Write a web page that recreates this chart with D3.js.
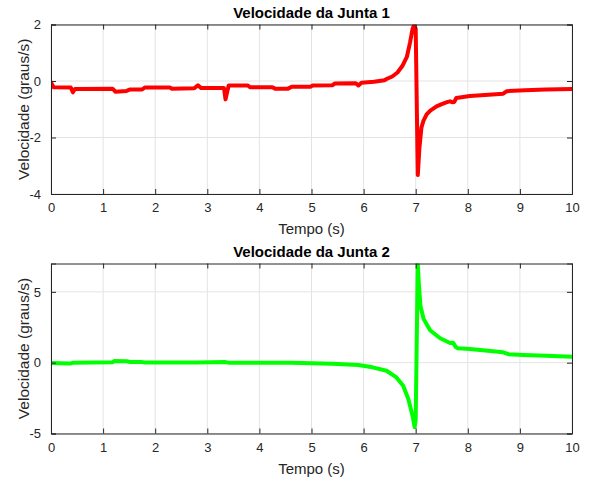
<!DOCTYPE html>
<html>
<head>
<meta charset="utf-8">
<script src="https://cdn.jsdelivr.net/npm/d3@7"></script>
<style>
  html, body { margin: 0; padding: 0; background: #fff; }
  svg { display: block; font-family: "Liberation Sans", Arial, Helvetica, sans-serif; }
</style>
</head>
<body>
<svg id="chart" width="591" height="481"></svg>
<script>
// ---- Data ----
const titles = ["Velocidade da Junta 1", "Velocidade da Junta 2"];
const xLabel = "Tempo (s)";
const yLabel = "Velocidade (graus/s)";
const xTicks = [0, 1, 2, 3, 4, 5, 6, 7, 8, 9, 10];
const yTicks1 = [-4, -2, 0, 2];
const yTicks2 = [-5, 0, 5];
const xDomain = [0, 10];
const yDomain1 = [-4, 2];
const yDomain2 = [-5, 7];

const t1 = [0.00, 0.05, 0.38, 0.42, 0.46, 1.18, 1.24, 1.45, 1.52, 1.75, 1.80, 2.28, 2.32, 2.75, 2.82, 2.88,
            3.32, 3.35, 3.38, 3.41, 3.78, 3.82, 4.25, 4.30, 4.55, 4.62, 4.98, 5.02, 5.40, 5.45, 5.85, 5.90,
            5.96, 6.20, 6.40, 6.45, 6.55, 6.65, 6.75, 6.83, 6.89, 6.94, 6.97, 7.00, 7.04, 7.07, 7.11, 7.15,
            7.21, 7.28, 7.40, 7.50, 7.60, 7.66, 7.70, 7.74, 7.78, 8.04, 8.40, 8.68, 8.75, 9.10, 9.50, 10.00];
const v1 = [-0.05, -0.22, -0.23, -0.40, -0.28, -0.27, -0.38, -0.35, -0.30, -0.30, -0.23, -0.23, -0.27, -0.26, -0.15, -0.25,
            -0.25, -0.65, -0.40, -0.16, -0.16, -0.22, -0.22, -0.27, -0.27, -0.20, -0.20, -0.16, -0.15, -0.09, -0.08, -0.16,
            -0.06, -0.03, 0.03, 0.08, 0.16, 0.30, 0.55, 0.85, 1.35, 1.85, 1.98, 1.85, -3.33, -2.40, -1.65, -1.40,
            -1.18, -1.05, -0.90, -0.82, -0.75, -0.72, -0.75, -0.74, -0.60, -0.53, -0.49, -0.45, -0.36, -0.33, -0.30, -0.28];

const t2 = [0.00, 0.38, 0.42, 1.18, 1.22, 1.45, 1.52, 1.75, 1.80, 2.80, 3.35, 3.40, 4.60, 5.00, 5.40, 5.90,
            6.17, 6.44, 6.63, 6.76, 6.86, 6.94, 6.98, 7.00, 7.04, 7.06, 7.09, 7.15, 7.28, 7.47, 7.66, 7.72,
            7.77, 7.81, 8.04, 8.68, 8.78, 9.06, 9.50, 10.00];
const v2 = [-0.03, -0.06, 0.00, 0.03, 0.12, 0.10, 0.05, 0.04, 0.01, 0.02, 0.04, 0.00, 0.00, -0.04, -0.08, -0.16,
            -0.33, -0.57, -1.04, -1.63, -2.58, -3.76, -4.55, -4.00, 7.00, 5.60, 4.04, 3.10, 2.27, 1.72, 1.39, 1.40,
            1.10, 1.02, 0.97, 0.73, 0.60, 0.54, 0.48, 0.42];

const colors = ["#ff0000", "#00ff00"];

// ---- Layout ----
const svg = d3.select("#chart");
const left = 51, right = 572;
const panels = [
  { top: 24.5, bottom: 194, yDomain: yDomain1, yTicks: yTicks1, t: t1, v: v1, color: colors[0], title: titles[0] },
  { top: 263.5, bottom: 433.5, yDomain: yDomain2, yTicks: yTicks2, t: t2, v: v2, color: colors[1], title: titles[1] }
];

const axisColor = "#262626";
const gridColor = "#e3e3e3";
const tickLen = 5;
const fmt = d => String(d); // plain hyphen-minus like the reference

panels.forEach((p, i) => {
  const x = d3.scaleLinear().domain(xDomain).range([left, right]);
  const y = d3.scaleLinear().domain(p.yDomain).range([p.bottom, p.top]);
  const g = svg.append("g");

  // grid
  g.append("g").selectAll("line.gx").data(xTicks).join("line")
    .attr("x1", d => x(d)).attr("x2", d => x(d))
    .attr("y1", p.top).attr("y2", p.bottom)
    .attr("stroke", gridColor).attr("stroke-width", 1);
  g.append("g").selectAll("line.gy").data(p.yTicks).join("line")
    .attr("x1", left).attr("x2", right)
    .attr("y1", d => y(d)).attr("y2", d => y(d))
    .attr("stroke", gridColor).attr("stroke-width", 1);

  // clip
  const cid = "clip" + i;
  svg.append("clipPath").attr("id", cid).append("rect")
    .attr("x", left).attr("y", p.top).attr("width", right - left).attr("height", p.bottom - p.top);

  // data line
  const data = p.t.map((tt, k) => [tt, p.v[k]]);
  g.append("path")
    .datum(data)
    .attr("clip-path", `url(#${cid})`)
    .attr("fill", "none")
    .attr("stroke", p.color)
    .attr("stroke-width", 4)
    .attr("stroke-linejoin", "round")
    .attr("stroke-linecap", "round")
    .attr("d", d3.line().x(d => x(d[0])).y(d => y(d[1])));

  // axes (ticks inward, box)
  const xb = d3.axisBottom(x).tickValues(xTicks).tickSize(-tickLen).tickPadding(9).tickFormat(fmt);
  const xt = d3.axisTop(x).tickValues(xTicks).tickSize(-tickLen).tickFormat("");
  const yl = d3.axisLeft(y).tickValues(p.yTicks).tickSize(-tickLen).tickPadding(10).tickFormat(fmt);
  const yr = d3.axisRight(y).tickValues(p.yTicks).tickSize(-tickLen).tickFormat("");

  const style = sel => {
    sel.selectAll("path").attr("stroke", axisColor).attr("stroke-width", 1);
    sel.selectAll("line").attr("stroke", axisColor).attr("stroke-width", 1);
    sel.selectAll("text").attr("fill", axisColor).style("font-size", "13px")
      .style("font-family", '"Liberation Sans", Arial, sans-serif');
  };
  g.append("g").attr("transform", `translate(0,${p.bottom})`).call(xb).call(style);
  g.append("g").attr("transform", `translate(0,${p.top})`).call(xt).call(style);
  g.append("g").attr("transform", `translate(${left},0)`).call(yl).call(style);
  g.append("g").attr("transform", `translate(${right},0)`).call(yr).call(style);
  g.selectAll(".domain").attr("fill", "none");

  // title
  svg.append("text")
    .attr("x", (left + right) / 2).attr("y", p.top - 6.5)
    .attr("text-anchor", "middle")
    .attr("font-weight", "bold").attr("font-size", 15)
    .attr("fill", "#000")
    .text(p.title);

  // x label
  svg.append("text")
    .attr("x", (left + right) / 2).attr("y", p.bottom + 40)
    .attr("text-anchor", "middle")
    .attr("font-size", 15)
    .attr("fill", axisColor)
    .text(xLabel);

  // y label
  const cy = (p.top + p.bottom) / 2;
  svg.append("text")
    .attr("transform", `translate(29,${cy}) rotate(-90)`)
    .attr("text-anchor", "middle")
    .attr("font-size", 15.5)
    .attr("fill", axisColor)
    .text(yLabel);
});
</script>
</body>
</html>
